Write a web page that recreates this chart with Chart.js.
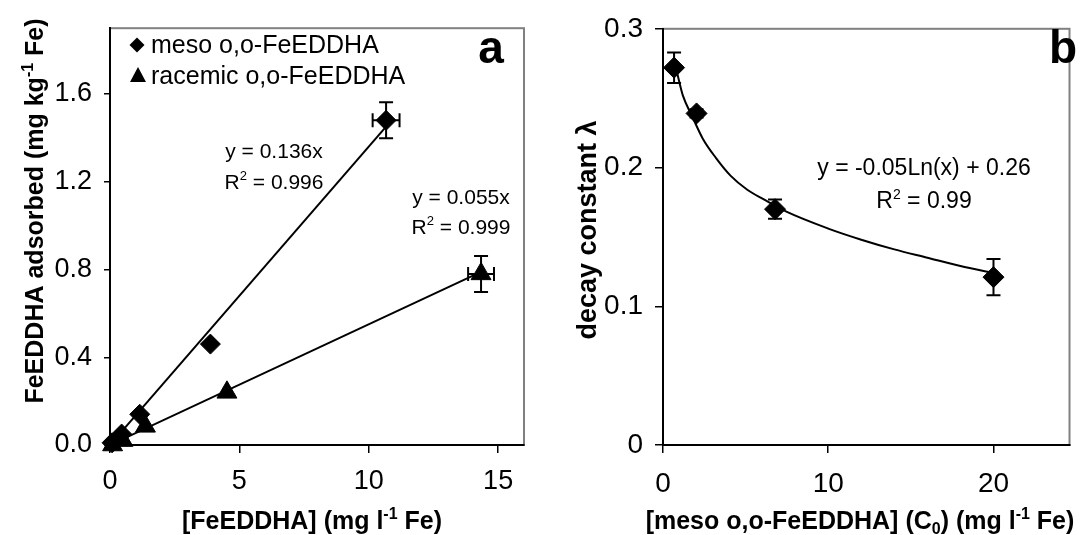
<!DOCTYPE html>
<html>
<head>
<meta charset="utf-8">
<script src="https://cdn.jsdelivr.net/npm/chart.js@4.4.1/dist/chart.umd.min.js"></script>
<style>
  html, body { margin: 0; padding: 0; background: #fff; overflow: hidden; }
  #wrap { position: relative; width: 1081px; height: 535px; }
  canvas { position: absolute; top: 0; }
  #chartA { left: 0; }
  #chartB { left: 540px; }
</style>
</head>
<body>
<div id="wrap">
  <canvas id="chartA" width="540" height="535"></canvas>
  <canvas id="chartB" width="541" height="535"></canvas>
</div>
<script>
// ---- panel a : adsorption ----
const mesoX = [0.08, 0.45, 1.15, 3.88, 10.67];
const mesoY = [0.01, 0.05, 0.14, 0.46, 1.48];
const mesoErrX = [0, 0, 0, 0, 0.52];
const mesoErrY = [0, 0, 0, 0, 0.082];
const racemicX = [0.1, 0.5, 1.37, 4.52, 14.34];
const racemicY = [0.0, 0.02, 0.085, 0.24, 0.78];
const racemicErrX = [0, 0, 0, 0, 0.5];
const racemicErrY = [0, 0, 0, 0, 0.082];
// trend lines (end points)
const mesoFitX = [0, 10.67];
const mesoFitY = [0, 1.451];
const racemicFitX = [0, 14.34];
const racemicFitY = [0, 0.789];
const xTicksA = [0, 5, 10, 15];
const yTicksA = [0, 0.4, 0.8, 1.2, 1.6];

// ---- panel b : decay constant ----
const conc = [0.67, 2.03, 6.78, 20.0];
const decay = [0.272, 0.239, 0.170, 0.121];
const decayErr = [0.011, 0.003, 0.007, 0.013];
// log trend curve
const curveX = [0.7, 0.9, 1.2, 1.8, 2.4, 3.2, 4.1, 5.1, 6.1, 7.5, 10, 12, 14, 16, 18, 20];
const curveY = [0.276, 0.266, 0.252, 0.236, 0.221, 0.207, 0.194, 0.184, 0.177, 0.168, 0.156, 0.148, 0.141, 0.135, 0.129, 0.124];
const xTicksB = [0, 10, 20];
const yTicksB = [0, 0.1, 0.2, 0.3];

const FONT = '"Liberation Sans", Arial, sans-serif';

const toPoints = (xs, ys) => xs.map((x, i) => ({ x, y: ys[i] }));

// text with superscript / subscript pieces, centred on (cx, cy)
function drawRich(ctx, parts, cx, cy, size, bold, rotate) {
  const w = bold ? 'bold ' : '';
  const base = w + size + 'px ' + FONT;
  const small = w + Math.round(size * 0.62) + 'px ' + FONT;
  let total = 0;
  parts.forEach(p => { ctx.font = p[1] ? small : base; total += ctx.measureText(p[0]).width; });
  ctx.save();
  ctx.translate(cx, cy);
  if (rotate) ctx.rotate(-Math.PI / 2);
  ctx.textAlign = 'left';
  ctx.textBaseline = 'alphabetic';
  ctx.fillStyle = '#000';
  let x = -total / 2;
  const by = size * 0.36;
  parts.forEach(p => {
    ctx.font = p[1] ? small : base;
    let dy = 0;
    if (p[1] === 'sup') dy = -size * 0.4;
    if (p[1] === 'sub') dy = size * 0.18;
    ctx.fillText(p[0], x, by + dy);
    x += ctx.measureText(p[0]).width;
  });
  ctx.restore();
}

// grey plot-area frame, drawn before the black axes
const framePlugin = {
  id: 'frame',
  beforeDraw(chart) {
    const { ctx, chartArea: a } = chart;
    ctx.save();
    ctx.strokeStyle = '#808080';
    ctx.lineWidth = 2;
    ctx.strokeRect(a.left, a.top, a.right - a.left, a.bottom - a.top);
    ctx.restore();
  }
};

// error bars from errX / errY arrays on the dataset
const errorBarPlugin = {
  id: 'errorBars',
  afterDatasetsDraw(chart) {
    const { ctx } = chart;
    const xs = chart.scales.x, ys = chart.scales.y;
    const cap = 7;
    ctx.save();
    ctx.strokeStyle = '#000';
    ctx.lineWidth = 2;
    chart.data.datasets.forEach(ds => {
      if (!ds.errY && !ds.errX) return;
      ds.data.forEach((p, i) => {
        const px = xs.getPixelForValue(p.x), py = ys.getPixelForValue(p.y);
        const ey = ds.errY ? ds.errY[i] : 0;
        const ex = ds.errX ? ds.errX[i] : 0;
        ctx.beginPath();
        if (ey) {
          const t = ys.getPixelForValue(p.y + ey), b = ys.getPixelForValue(p.y - ey);
          ctx.moveTo(px, t); ctx.lineTo(px, b);
          ctx.moveTo(px - cap, t); ctx.lineTo(px + cap, t);
          ctx.moveTo(px - cap, b); ctx.lineTo(px + cap, b);
        }
        if (ex) {
          const l = xs.getPixelForValue(p.x - ex), r = xs.getPixelForValue(p.x + ex);
          ctx.moveTo(l, py); ctx.lineTo(r, py);
          ctx.moveTo(l, py - cap); ctx.lineTo(l, py + cap);
          ctx.moveTo(r, py - cap); ctx.lineTo(r, py + cap);
        }
        ctx.stroke();
      });
    });
    ctx.restore();
  }
};

function axis(min, max, tickVals, fmt, fontSize, tickLen, pad, fit) {
  return {
    type: 'linear',
    min, max,
    afterBuildTicks: s => { s.ticks = tickVals.map(v => ({ value: v })); },
    afterFit: fit,
    ticks: {
      color: '#000',
      font: { family: FONT, size: fontSize },
      padding: pad,
      maxRotation: 0,
      callback: fmt
    },
    grid: { drawOnChartArea: false, drawTicks: true, tickLength: tickLen, color: '#000', lineWidth: 1.5 },
    border: { display: true, color: '#000', width: 2 }
  };
}

const common = {
  responsive: false,
  animation: false,
  events: [],
  plugins: { legend: { display: false }, tooltip: { enabled: false } }
};

// ---------------- chart a ----------------
const textsA = {
  id: 'textsA',
  afterDraw(chart) {
    const ctx = chart.ctx;
    drawRich(ctx, [['FeEDDHA adsorbed (mg kg', ''], ['-1', 'sup'], [' Fe)', '']], 34, 211, 25, true, true);
    drawRich(ctx, [['[FeEDDHA] (mg l', ''], ['-1', 'sup'], [' Fe)', '']], 312, 520, 25, true, false);
    drawRich(ctx, [['y = 0.136x', '']], 274, 150, 21, false, false);
    drawRich(ctx, [['R', ''], ['2', 'sup'], [' = 0.996', '']], 274, 181, 21, false, false);
    drawRich(ctx, [['y = 0.055x', '']], 461, 196, 21, false, false);
    drawRich(ctx, [['R', ''], ['2', 'sup'], [' = 0.999', '']], 461, 226, 21, false, false);

    // legend
    ctx.save();
    ctx.fillStyle = '#000';
    ctx.beginPath();
    ctx.moveTo(137, 45 - 7.5); ctx.lineTo(144.5, 45); ctx.lineTo(137, 45 + 7.5); ctx.lineTo(129.5, 45);
    ctx.closePath(); ctx.fill();
    ctx.beginPath();
    ctx.moveTo(138, 76 - 9); ctx.lineTo(146, 76 + 6); ctx.lineTo(130, 76 + 6);
    ctx.closePath(); ctx.fill();
    ctx.font = '25px ' + FONT;
    ctx.textBaseline = 'middle';
    ctx.fillText('meso o,o-FeEDDHA', 151, 46);
    ctx.fillText('racemic o,o-FeEDDHA', 151, 77);
    ctx.font = 'bold 46px ' + FONT;
    ctx.textAlign = 'center';
    ctx.textBaseline = 'alphabetic';
    ctx.fillText('a', 491, 63);
    ctx.restore();
  }
};

new Chart(document.getElementById('chartA'), {
  type: 'scatter',
  data: {
    datasets: [
      {
        data: toPoints(mesoX, mesoY), errX: mesoErrX, errY: mesoErrY,
        pointStyle: 'rectRot', pointRadius: 10, backgroundColor: '#000', borderColor: '#000', borderWidth: 1, clip: false
      },
      {
        data: toPoints(racemicX, racemicY), errX: racemicErrX, errY: racemicErrY,
        pointStyle: 'triangle', pointRadius: 11.5, backgroundColor: '#000', borderColor: '#000', borderWidth: 1, clip: false
      },
      {
        data: toPoints(mesoFitX, mesoFitY), showLine: true, pointRadius: 0,
        borderColor: '#000', borderWidth: 2
      },
      {
        data: toPoints(racemicFitX, racemicFitY), showLine: true, pointRadius: 0,
        borderColor: '#000', borderWidth: 2
      }
    ]
  },
  options: {
    ...common,
    layout: { padding: { left: 0, top: 17, right: 16, bottom: 0 } },
    scales: {
      x: axis(0, 16, xTicksA, v => String(v), 27, 8, 12, s => { s.height = 90; }),
      y: axis(0, 1.9, yTicksA, v => v.toFixed(1), 27, 6, 12, s => { s.width = 110; })
    }
  },
  plugins: [framePlugin, errorBarPlugin, textsA]
});

// ---------------- chart b ----------------
const textsB = {
  id: 'textsB',
  afterDraw(chart) {
    const ctx = chart.ctx;
    drawRich(ctx, [['decay constant λ', '']], 46, 230, 27, true, true);
    drawRich(ctx, [['[meso o,o-FeEDDHA] (C', ''], ['0', 'sub'], [') (mg l', ''], ['-1', 'sup'], [' Fe)', '']], 320, 520, 25, true, false);
    drawRich(ctx, [['y = -0.05Ln(x) + 0.26', '']], 384, 167, 23, false, false);
    drawRich(ctx, [['R', ''], ['2', 'sup'], [' = 0.99', '']], 384, 200, 23, false, false);
    ctx.save();
    ctx.fillStyle = '#000';
    ctx.font = 'bold 46px ' + FONT;
    ctx.textAlign = 'center';
    ctx.fillText('b', 523, 63);
    ctx.restore();
  }
};

new Chart(document.getElementById('chartB'), {
  type: 'scatter',
  data: {
    datasets: [
      {
        data: toPoints(conc, decay), errY: decayErr,
        pointStyle: 'rectRot', pointRadius: 10.5, backgroundColor: '#000', borderColor: '#000', borderWidth: 1, clip: false
      },
      {
        data: toPoints(curveX, curveY), showLine: true, pointRadius: 0,
        borderColor: '#000', borderWidth: 2, cubicInterpolationMode: 'monotone'
      }
    ]
  },
  options: {
    ...common,
    layout: { padding: { left: 0, top: 17, right: 0, bottom: 0 } },
    scales: {
      x: axis(0, 24.6, xTicksB, v => String(v), 28, 8, 14, s => { s.height = 90; }),
      y: axis(0, 0.3, yTicksB, v => (v === 0 ? '0' : v.toFixed(1)), 28, 8, 12, s => { s.width = 123; })
    }
  },
  plugins: [framePlugin, errorBarPlugin, textsB]
});
</script>
</body>
</html>
